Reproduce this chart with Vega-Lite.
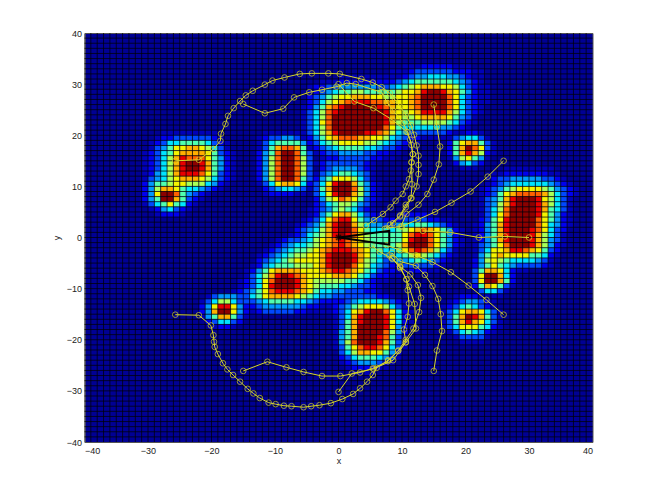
{"$schema":"https://vega.github.io/schema/vega-lite/v6.json","width":508,"height":409,"autosize":"none","padding":{"left":84.5,"top":33,"right":61.5,"bottom":62},"background":"white","view":{"fill":"#000094","stroke":"#555"},
"datasets":{
"cells":[
{"y":20,"x":[-12,-11,-10,-9,-8,-7],"v":[1,1,1,1,1,1]},
{"y":19,"x":[-13,-12,-11,-10,-9,-8,-7],"v":[1,2,3,3,4,4,3]},
{"y":18,"x":[-13,-12,-11,-10,-9,-8,-7,-6],"v":[1,3,5,6,6,6,6,4]},
{"y":17,"x":[-13,-12,-11,-10,-9,-8,-7,-6,-5,-4],"v":[1,3,6,9,10,10,9,6,3,1]},
{"y":16,"x":[-13,-12,-11,-10,-9,-8,-7,-6,-5],"v":[2,4,6,10,12,12,10,6,3]},
{"y":15,"x":[-13,-12,-11,-10,-9,-8,-7,-6,-5],"v":[2,4,7,10,12,12,10,7,3]},
{"y":14,"x":[-13,-12,-11,-10,-9,-8,-7,-6,-5,-4],"v":[2,4,7,10,12,12,10,7,3,1]},
{"y":13,"x":[-13,-12,-11,-10,-9,-8,-7,-6,-5],"v":[2,4,7,10,12,12,10,7,3]},
{"y":12,"x":[-13,-12,-11,-10,-9,-8,-7,-6,-5],"v":[2,4,7,10,12,12,10,7,3]},
{"y":11,"x":[-13,-12,-11,-10,-9,-8,-7,-6,-5],"v":[2,4,7,10,12,12,10,6,3]},
{"y":10,"x":[-13,-12,-11,-10,-9,-8,-7,-6,-5],"v":[1,3,5,8,9,9,8,5,2]},
{"y":9,"x":[-12,-11,-10,-9,-8,-7,-6,-5],"v":[2,3,4,5,5,4,3,1]},
{"y":8,"x":[-12,-11,-10,-9,-8,-7,-6],"v":[1,2,2,2,2,1,1]},
{"y":20,"x":[-28,-27,-26,-25,-24,-23,-22,-21,-20],"v":[1,1,1,1,1,1,1,1,1]},
{"y":19,"x":[-29,-28,-27,-26,-25,-24,-23,-22,-21,-20,-19],"v":[1,2,2,3,3,3,3,3,3,2,1]},
{"y":18,"x":[-30,-29,-28,-27,-26,-25,-24,-23,-22,-21,-20,-19,-18],"v":[1,2,3,5,5,6,6,6,6,5,3,2,1]},
{"y":17,"x":[-30,-29,-28,-27,-26,-25,-24,-23,-22,-21,-20,-19,-18],"v":[1,3,4,6,8,8,9,9,8,7,5,3,1]},
{"y":16,"x":[-31,-30,-29,-28,-27,-26,-25,-24,-23,-22,-21,-20,-19,-18,-17],"v":[1,2,3,5,6,8,9,9,9,9,8,6,3,2,1]},
{"y":15,"x":[-31,-30,-29,-28,-27,-26,-25,-24,-23,-22,-21,-20,-19,-18,-17],"v":[1,2,3,5,7,9,11,10,10,10,8,6,4,2,1]},
{"y":14,"x":[-31,-30,-29,-28,-27,-26,-25,-24,-23,-22,-21,-20,-19,-18,-17],"v":[1,2,3,5,7,9,11,12,12,11,9,6,4,2,1]},
{"y":13,"x":[-31,-30,-29,-28,-27,-26,-25,-24,-23,-22,-21,-20,-19,-18,-17],"v":[1,2,3,5,7,9,11,12,12,11,9,6,4,2,1]},
{"y":12,"x":[-31,-30,-29,-28,-27,-26,-25,-24,-23,-22,-21,-20,-19,-18,-17],"v":[1,2,4,5,7,9,11,11,11,10,8,6,3,2,1]},
{"y":11,"x":[-31,-30,-29,-28,-27,-26,-25,-24,-23,-22,-21,-20,-19,-18,-17],"v":[1,3,4,5,7,8,9,9,9,8,7,5,3,2,1]},
{"y":10,"x":[-31,-30,-29,-28,-27,-26,-25,-24,-23,-22,-21,-20,-19,-18],"v":[2,4,6,6,7,8,8,7,7,7,5,4,2,1]},
{"y":9,"x":[-31,-30,-29,-28,-27,-26,-25,-24,-23,-22,-21,-20,-19],"v":[2,4,7,9,9,8,6,5,5,4,3,2,1]},
{"y":8,"x":[-31,-30,-29,-28,-27,-26,-25,-24,-23,-22,-21],"v":[2,4,8,12,12,10,6,4,3,2,1]},
{"y":7,"x":[-31,-30,-29,-28,-27,-26,-25,-24,-23,-22],"v":[2,4,6,12,12,9,6,3,2,1]},
{"y":6,"x":[-31,-30,-29,-28,-27,-26,-25,-24,-23],"v":[1,3,5,6,8,6,5,2,1]},
{"y":5,"x":[-30,-29,-28,-27,-26,-25,-24],"v":[1,2,4,5,3,2,1]},
{"y":4,"x":[-29,-28,-27,-26,-25],"v":[1,2,2,2,1]},
{"y":33,"x":[10,11,12,13,14,15,16,17,18,19,20],"v":[1,1,1,2,2,2,2,2,1,1,1]},
{"y":32,"x":[8,9,10,11,12,13,14,15,16,17,18,19,20,21,22],"v":[1,1,1,2,3,3,3,3,3,3,2,2,2,1,1]},
{"y":31,"x":[0,1,2,3,4,5,6,7,8,9,10,11,12,13,14,15,16,17,18,19,20,21,22],"v":[1,1,1,1,1,1,1,1,1,1,2,3,4,4,5,5,5,4,4,3,2,1,1]},
{"y":30,"x":[-3,-2,-1,0,1,2,3,4,5,6,7,8,9,10,11,12,13,14,15,16,17,18,19,20,21,22],"v":[1,1,1,2,2,2,2,2,2,2,2,2,3,4,5,6,6,6,6,6,6,5,4,3,2,1]},
{"y":29,"x":[-5,-4,-3,-2,-1,0,1,2,3,4,5,6,7,8,9,10,11,12,13,14,15,16,17,18,19,20,21,22,23],"v":[1,2,2,3,3,4,4,4,4,4,4,3,3,4,5,6,7,8,9,9,9,8,8,7,5,3,2,1,1]},
{"y":28,"x":[-5,-4,-3,-2,-1,0,1,2,3,4,5,6,7,8,9,10,11,12,13,14,15,16,17,18,19,20,21,22,23],"v":[1,2,3,4,5,6,6,7,7,6,6,6,6,6,7,8,8,9,11,12,12,11,9,8,6,4,2,1,1]},
{"y":27,"x":[-5,-4,-3,-2,-1,0,1,2,3,4,5,6,7,8,9,10,11,12,13,14,15,16,17,18,19,20,21,22,23],"v":[2,3,4,6,7,8,8,9,9,9,8,8,7,7,8,8,9,10,12,12,12,12,10,8,5,3,2,1,1]},
{"y":26,"x":[-5,-4,-3,-2,-1,0,1,2,3,4,5,6,7,8,9,10,11,12,13,14,15,16,17,18,19,20,21,22,23],"v":[2,3,5,7,8,9,10,11,11,11,10,10,9,9,8,8,9,10,12,12,12,12,10,8,5,3,2,1,1]},
{"y":25,"x":[-6,-5,-4,-3,-2,-1,0,1,2,3,4,5,6,7,8,9,10,11,12,13,14,15,16,17,18,19,20,21,22],"v":[1,2,4,6,9,10,11,12,12,12,12,12,11,10,9,8,8,9,10,12,12,12,12,10,8,5,3,2,1]},
{"y":24,"x":[-6,-5,-4,-3,-2,-1,0,1,2,3,4,5,6,7,8,9,10,11,12,13,14,15,16,17,18,19,20,21,22],"v":[1,3,5,7,10,11,12,12,12,12,12,12,12,11,9,8,7,8,9,11,11,11,11,9,7,5,3,2,1]},
{"y":23,"x":[-6,-5,-4,-3,-2,-1,0,1,2,3,4,5,6,7,8,9,10,11,12,13,14,15,16,17,18,19,20,21],"v":[1,3,5,7,10,12,12,12,12,12,12,12,12,11,9,8,7,7,8,9,9,9,9,8,6,4,3,1]},
{"y":22,"x":[-6,-5,-4,-3,-2,-1,0,1,2,3,4,5,6,7,8,9,10,11,12,13,14,15,16,17,18,19,20,21],"v":[1,3,5,8,10,12,12,12,12,12,12,12,12,11,9,7,6,6,6,7,7,7,7,6,5,3,2,1]},
{"y":21,"x":[-6,-5,-4,-3,-2,-1,0,1,2,3,4,5,6,7,8,9,10,11,12,13,14,15,16,17,18,19,20],"v":[1,3,5,7,10,12,12,12,12,12,12,12,12,10,8,6,5,5,5,5,5,5,4,4,3,2,1]},
{"y":20,"x":[-6,-5,-4,-3,-2,-1,0,1,2,3,4,5,6,7,8,9,10,11,12,13,14,15,16,17],"v":[1,3,5,7,9,11,12,12,12,12,11,11,10,9,7,5,4,3,3,3,3,3,3,2]},
{"y":19,"x":[-6,-5,-4,-3,-2,-1,0,1,2,3,4,5,6,7,8,9,10,11,12,13,14,15,16],"v":[1,2,4,6,8,9,10,10,10,9,9,8,8,7,5,4,3,2,2,1,1,1,1]},
{"y":18,"x":[-5,-4,-3,-2,-1,0,1,2,3,4,5,6,7,8,9,10,11,12],"v":[2,3,5,6,7,8,8,8,8,7,7,6,5,4,3,2,1,1]},
{"y":17,"x":[-5,-4,-3,-2,-1,0,1,2,3,4,5,6,7,8,9,10,11],"v":[1,2,3,4,5,6,6,6,6,5,5,4,3,3,2,1,1]},
{"y":16,"x":[-4,-3,-2,-1,0,1,2,3,4,5,6,7,8,9],"v":[1,2,3,3,4,4,4,4,3,3,2,2,1,1]},
{"y":15,"x":[-3,-2,-1,0,1,2,3,4,5,6,7,8],"v":[1,2,2,3,3,3,3,3,2,2,1,1]},
{"y":14,"x":[-4,-3,-2,-1,0,1,2,3,4,5],"v":[1,2,3,3,3,3,3,3,2,1]},
{"y":13,"x":[-3,-2,-1,0,1,2,3,4,5],"v":[2,3,4,4,4,4,3,2,1]},
{"y":12,"x":[-4,-3,-2,-1,0,1,2,3,4,5],"v":[1,3,4,5,6,6,5,4,3,1]},
{"y":11,"x":[-4,-3,-2,-1,0,1,2,3,4,5],"v":[2,4,6,8,8,8,7,5,3,1]},
{"y":10,"x":[-4,-3,-2,-1,0,1,2,3,4,5,6],"v":[3,5,8,11,12,12,9,6,4,2,1]},
{"y":9,"x":[-4,-3,-2,-1,0,1,2,3,4,5,6],"v":[3,6,9,12,12,12,10,7,4,2,1]},
{"y":8,"x":[-4,-3,-2,-1,0,1,2,3,4,5,6],"v":[3,5,8,11,12,12,9,7,4,2,1]},
{"y":7,"x":[-4,-3,-2,-1,0,1,2,3,4,5,6],"v":[2,4,7,8,10,9,8,6,3,2,1]},
{"y":6,"x":[-4,-3,-2,-1,0,1,2,3,4,5],"v":[2,3,5,6,7,7,6,4,3,1]},
{"y":5,"x":[-5,-4,-3,-2,-1,0,1,2,3,4,5],"v":[1,2,3,4,6,7,6,5,3,2,1]},
{"y":4,"x":[-5,-4,-3,-2,-1,0,1,2,3,4,5,6],"v":[1,2,4,6,8,9,9,7,5,3,2,1]},
{"y":4,"x":[9,10,11,12,13,14],"v":[1,2,2,2,2,1]},
{"y":3,"x":[-6,-5,-4,-3,-2,-1,0,1,2,3,4,5,6,7,8,9,10,11,12,13,14,15,16,17],"v":[1,2,3,5,8,10,11,11,8,6,4,3,3,2,2,2,3,3,3,3,2,2,1,1]},
{"y":2,"x":[-7,-6,-5,-4,-3,-2,-1,0,1,2,3,4,5,6,7,8,9,10,11,12,13,14,15,16,17,18],"v":[1,2,3,4,6,9,11,12,12,9,7,5,4,4,3,3,4,5,5,6,6,5,4,3,2,1]},
{"y":1,"x":[-7,-6,-5,-4,-3,-2,-1,0,1,2,3,4,5,6,7,8,9,10,11,12,13,14,15,16,17,18,19],"v":[2,3,4,5,7,9,11,12,12,10,8,6,5,5,5,5,6,7,8,9,10,9,8,6,4,2,1]},
{"y":0,"x":[-8,-7,-6,-5,-4,-3,-2,-1,0,1,2,3,4,5,6,7,8,9,10,11,12,13,14,15,16,17,18,19],"v":[1,2,3,5,6,7,9,11,12,11,10,8,7,6,6,6,6,6,8,10,11,11,10,8,6,4,2,1]},
{"y":-1,"x":[-10,-9,-8,-7,-6,-5,-4,-3,-2,-1,0,1,2,3,4,5,6,7,8,9,10,11,12,13,14,15,16,17,18,19],"v":[1,2,3,3,4,5,7,8,9,10,11,10,9,8,7,6,6,6,6,6,8,11,12,12,10,8,6,4,2,1]},
{"y":-2,"x":[-11,-10,-9,-8,-7,-6,-5,-4,-3,-2,-1,0,1,2,3,4,5,6,7,8,9,10,11,12,13,14,15,16,17,18,19],"v":[1,2,3,4,5,5,6,7,8,9,10,11,10,9,8,7,6,6,6,6,7,9,12,12,12,10,8,6,4,2,1]},
{"y":-3,"x":[-12,-11,-10,-9,-8,-7,-6,-5,-4,-3,-2,-1,0,1,2,3,4,5,6,7,8,9,10,11,12,13,14,15,16,17,18],"v":[1,2,3,4,5,6,6,7,8,9,10,11,11,11,10,9,8,6,6,5,5,6,8,10,11,10,9,7,5,3,1]},
{"y":-4,"x":[-13,-12,-11,-10,-9,-8,-7,-6,-5,-4,-3,-2,-1,0,1,2,3,4,5,6,7,8,9,10,11,12,13,14,15,16,17,18],"v":[1,2,3,4,5,6,7,7,8,8,9,11,12,12,12,11,9,8,6,5,4,4,5,6,7,8,7,6,5,3,2,1]},
{"y":-5,"x":[-13,-12,-11,-10,-9,-8,-7,-6,-5,-4,-3,-2,-1,0,1,2,3,4,5,6,7,8,9,10,11,12,13,14,15,16,17],"v":[2,3,4,5,6,7,8,8,8,8,9,11,12,12,12,11,9,7,6,5,3,3,4,4,5,6,5,4,3,2,1]},
{"y":-6,"x":[-14,-13,-12,-11,-10,-9,-8,-7,-6,-5,-4,-3,-2,-1,0,1,2,3,4,5,6,7,8,9,10,11,12,13,14,15,16],"v":[1,2,4,5,6,6,6,7,7,7,8,9,11,12,12,12,10,8,7,5,4,3,2,2,3,3,3,3,3,2,1]},
{"y":-7,"x":[-15,-14,-13,-12,-11,-10,-9,-8,-7,-6,-5,-4,-3,-2,-1,0,1,2,3,4,5,6,7,8,9,10,11,12,13,14,15],"v":[1,2,4,6,8,9,9,9,9,8,8,8,9,10,11,11,10,9,8,6,5,3,2,2,1,1,2,2,2,1,1]},
{"y":-8,"x":[-15,-14,-13,-12,-11,-10,-9,-8,-7,-6,-5,-4,-3,-2,-1,0,1,2,3,4,5,6,7,8,9],"v":[1,3,5,7,9,11,12,11,10,9,8,8,8,8,9,9,9,8,6,5,3,2,2,1,1]},
{"y":-9,"x":[-16,-15,-14,-13,-12,-11,-10,-9,-8,-7,-6,-5,-4,-3,-2,-1,0,1,2,3,4,5,6,7],"v":[1,2,3,5,8,10,12,12,12,11,9,8,7,7,7,7,7,6,6,5,3,2,1,1]},
{"y":-10,"x":[-16,-15,-14,-13,-12,-11,-10,-9,-8,-7,-6,-5,-4,-3,-2,-1,0,1,2,3,4,5,6],"v":[1,2,3,5,8,11,12,12,12,11,9,8,7,6,6,6,5,5,4,3,3,2,1]},
{"y":-11,"x":[-17,-16,-15,-14,-13,-12,-11,-10,-9,-8,-7,-6,-5,-4,-3,-2,-1,0,1,2,3,4,5,6],"v":[1,2,3,4,6,8,10,11,11,11,10,9,8,6,5,5,4,4,3,3,3,2,2,1]},
{"y":-12,"x":[-21,-20,-19,-18,-17,-16,-15,-14,-13,-12,-11,-10,-9,-8,-7,-6,-5,-4,-3,-2,-1,0,1,2,3,4,5,6,7,8],"v":[1,3,4,4,4,3,3,5,6,8,9,9,9,9,8,7,6,5,4,4,3,3,3,3,3,3,3,2,2,1]},
{"y":-13,"x":[-22,-21,-20,-19,-18,-17,-16,-15,-14,-13,-12,-11,-10,-9,-8,-7,-6,-5,-4,-3,-2,-1,0,1,2,3,4,5,6,7,8,9,10],"v":[1,3,5,7,7,5,3,3,3,4,5,6,6,6,6,5,5,4,3,2,2,2,2,3,4,5,5,5,5,4,3,2,1]},
{"y":-14,"x":[-22,-21,-20,-19,-18,-17,-16,-15,-14,-13,-12,-11,-10,-9,-8,-7,-6,-5,-4,-3,-2,-1,0,1,2,3,4,5,6,7,8,9,10],"v":[2,4,8,11,11,8,4,2,2,3,4,4,4,4,4,4,3,2,2,1,1,2,3,4,6,7,8,8,8,7,5,3,1]},
{"y":-15,"x":[-22,-21,-20,-19,-18,-17,-16,-15,-14,-13,-12,-11,-10,-9,-8,-7,-6,-5,-4,-3,-2,-1,0,1,2,3,4,5,6,7,8,9,10,11],"v":[2,4,9,12,12,8,4,2,1,2,3,3,3,3,3,2,2,1,1,1,1,2,3,5,8,9,11,12,12,10,8,5,2,1]},
{"y":-16,"x":[-22,-21,-20,-19,-18,-17,-16,-15],"v":[1,4,6,9,9,6,3,1]},
{"y":-17,"x":[-21,-20,-19,-18,-17,-16],"v":[2,3,5,5,3,2]},
{"y":-18,"x":[-20,-19,-18,-17],"v":[1,2,2,1]},
{"y":-16,"x":[-1,0,1,2,3,4,5,6,7,8,9,10,11],"v":[1,3,5,9,11,12,12,12,11,8,5,2,1]},
{"y":-17,"x":[-1,0,1,2,3,4,5,6,7,8,9,10,11],"v":[1,3,6,9,11,12,12,12,11,8,5,2,1]},
{"y":-18,"x":[-1,0,1,2,3,4,5,6,7,8,9,10],"v":[1,3,6,9,12,12,12,12,11,8,4,2]},
{"y":-19,"x":[-1,0,1,2,3,4,5,6,7,8,9,10],"v":[1,4,6,9,12,12,12,12,10,7,4,2]},
{"y":-20,"x":[-1,0,1,2,3,4,5,6,7,8,9,10],"v":[1,4,6,9,12,12,12,11,10,6,3,1]},
{"y":-21,"x":[-1,0,1,2,3,4,5,6,7,8,9,10],"v":[1,4,7,10,12,12,12,11,9,6,3,1]},
{"y":-22,"x":[-1,0,1,2,3,4,5,6,7,8,9,10],"v":[1,3,6,8,10,11,11,10,8,5,3,1]},
{"y":-23,"x":[0,1,2,3,4,5,6,7,8,9],"v":[3,5,7,9,9,8,8,6,4,2]},
{"y":-24,"x":[0,1,2,3,4,5,6,7,8,9],"v":[2,3,5,6,6,6,5,4,3,1]},
{"y":-25,"x":[0,1,2,3,4,5,6,7,8],"v":[1,2,3,4,4,4,3,2,1]},
{"y":-26,"x":[1,2,3,4,5,6,7],"v":[1,2,2,2,2,1,1]},
{"y":-27,"x":[2,3,4,5],"v":[1,1,1,1]},
{"y":20,"x":[18,19,20,21,22],"v":[1,1,2,2,1]},
{"y":19,"x":[17,18,19,20,21,22,23],"v":[1,3,4,5,5,3,1]},
{"y":18,"x":[17,18,19,20,21,22,23,24],"v":[2,6,8,9,9,6,3,1]},
{"y":17,"x":[17,18,19,20,21,22,23,24],"v":[2,6,9,12,10,8,3,1]},
{"y":16,"x":[17,18,19,20,21,22,23,24],"v":[2,6,9,11,9,7,2,1]},
{"y":15,"x":[17,18,19,20,21,22,23],"v":[1,4,7,8,6,4,1]},
{"y":14,"x":[18,19,20,21,22],"v":[2,4,5,3,2]},
{"y":13,"x":[19,20,21],"v":[1,1,1]},
{"y":13,"x":[26,27,28,29,30,31,32,33],"v":[1,1,1,1,1,1,1,1]},
{"y":12,"x":[24,25,26,27,28,29,30,31,32,33,34],"v":[1,1,2,2,2,2,2,2,2,1,1]},
{"y":11,"x":[23,24,25,26,27,28,29,30,31,32,33,34,35],"v":[1,2,3,3,4,4,4,4,4,3,3,2,1]},
{"y":10,"x":[23,24,25,26,27,28,29,30,31,32,33,34,35,36],"v":[1,2,3,4,5,5,5,5,5,5,4,3,2,1]},
{"y":9,"x":[22,23,24,25,26,27,28,29,30,31,32,33,34,35,36,37],"v":[1,2,3,4,6,7,8,8,8,8,7,6,4,3,2,1]},
{"y":8,"x":[22,23,24,25,26,27,28,29,30,31,32,33,34,35,36,37],"v":[1,2,3,6,8,9,10,10,10,10,9,7,5,3,2,1]},
{"y":7,"x":[22,23,24,25,26,27,28,29,30,31,32,33,34,35,36],"v":[1,3,4,6,9,11,12,12,12,11,8,7,5,3,1]},
{"y":6,"x":[22,23,24,25,26,27,28,29,30,31,32,33,34,35,36],"v":[1,3,4,7,9,11,12,12,12,11,9,7,5,3,1]},
{"y":5,"x":[22,23,24,25,26,27,28,29,30,31,32,33,34,35,36],"v":[1,3,5,7,10,12,12,12,12,11,9,6,5,3,1]},
{"y":4,"x":[22,23,24,25,26,27,28,29,30,31,32,33,34,35,36],"v":[1,3,5,8,10,12,12,12,12,11,8,6,4,2,1]},
{"y":3,"x":[22,23,24,25,26,27,28,29,30,31,32,33,34,35,36],"v":[2,3,6,8,11,12,12,12,12,10,8,6,4,2,1]},
{"y":2,"x":[21,22,23,24,25,26,27,28,29,30,31,32,33,34,35,36],"v":[1,2,4,6,9,11,12,12,12,12,10,8,5,4,2,1]},
{"y":1,"x":[21,22,23,24,25,26,27,28,29,30,31,32,33,34,35],"v":[1,2,4,6,9,11,12,12,12,11,10,8,5,3,2]},
{"y":0,"x":[21,22,23,24,25,26,27,28,29,30,31,32,33,34,35],"v":[1,2,4,6,9,11,12,12,12,11,9,7,5,3,1]},
{"y":-1,"x":[21,22,23,24,25,26,27,28,29,30,31,32,33,34,35],"v":[1,2,4,6,9,11,12,12,12,11,9,7,4,3,1]},
{"y":-2,"x":[21,22,23,24,25,26,27,28,29,30,31,32,33,34,35],"v":[1,3,4,6,8,10,12,12,12,11,9,7,4,2,1]},
{"y":-3,"x":[21,22,23,24,25,26,27,28,29,30,31,32,33,34],"v":[1,3,5,8,8,9,11,11,10,9,8,6,3,2]},
{"y":-4,"x":[21,22,23,24,25,26,27,28,29,30,31,32,33,34],"v":[1,4,6,8,9,8,8,8,8,6,6,5,2,1]},
{"y":-5,"x":[21,22,23,24,25,26,27,28,29,30,31,32,33],"v":[2,4,7,8,7,6,5,5,5,5,4,3,1]},
{"y":-6,"x":[21,22,23,24,25,26,27,28,29,30,31,32,33],"v":[2,4,6,8,6,5,4,3,3,3,3,2,1]},
{"y":-7,"x":[21,22,23,24,25,26,27,28,29],"v":[3,6,9,9,8,5,2,1,1]},
{"y":-8,"x":[21,22,23,24,25,26,27],"v":[3,8,12,12,9,5,2]},
{"y":-9,"x":[21,22,23,24,25,26,27],"v":[3,8,12,12,9,6,2]},
{"y":-10,"x":[21,22,23,24,25,26,27],"v":[2,6,9,8,6,3,1]},
{"y":-11,"x":[22,23,24,25,26],"v":[3,5,5,3,1]},
{"y":-12,"x":[18,19,20,21,22,23,24,25],"v":[1,2,2,2,1,1,1,1]},
{"y":-13,"x":[17,18,19,20,21,22,23,24],"v":[1,2,3,4,4,3,2,1]},
{"y":-14,"x":[16,17,18,19,20,21,22,23,24],"v":[1,2,3,5,6,5,3,2,1]},
{"y":-15,"x":[16,17,18,19,20,21,22,23,24,25],"v":[1,3,5,8,9,9,8,5,3,1]},
{"y":-16,"x":[16,17,18,19,20,21,22,23,24,25],"v":[1,3,6,9,12,11,9,6,3,1]},
{"y":-17,"x":[16,17,18,19,20,21,22,23,24,25],"v":[1,3,6,9,11,9,8,5,3,1]},
{"y":-18,"x":[16,17,18,19,20,21,22,23,24,25],"v":[1,3,5,8,8,8,6,5,2,1]},
{"y":-19,"x":[17,18,19,20,21,22,23,24],"v":[1,3,5,6,5,4,2,1]},
{"y":-20,"x":[18,19,20,21,22,23],"v":[1,3,3,3,3,1]},
{"y":-21,"x":[19,20,21,22],"v":[1,1,1,1]}
],
"grid":[{"g":[-39,-38,-37,-36,-35,-34,-33,-32,-31,-30,-29,-28,-27,-26,-25,-24,-23,-22,-21,-20,-19,-18,-17,-16,-15,-14,-13,-12,-11,-10,-9,-8,-7,-6,-5,-4,-3,-2,-1,0,1,2,3,4,5,6,7,8,9,10,11,12,13,14,15,16,17,18,19,20,21,22,23,24,25,26,27,28,29,30,31,32,33,34,35,36,37,38,39]}],
"tracks":[
{"t":1,"x":[-25.7,-22,-19.7,-18.6,-18.5,-17.8,-17.4,-16.5,-15.5,-14.6,-13.5,-11.6,-10.4,-8.5,-6.1,-4.2,-1.6,0.2,3.6,5.4,6.8,8.1,8.9,9.7,10.6,11.4,11.9,12.3,12.6,12.6,12.6,12.3,11.5,10.6,9.7,8.6,7.3],"y":[15,15.2,17.3,18.9,20.3,22.2,23.8,25.3,26.7,27.8,28.7,29.9,30.7,31.3,32,32.1,32.1,32,31,30.3,29.4,28.2,26.9,25.6,24,22,20.1,18,16,14.2,12.4,10,7.7,5.9,4.1,2.8,1.7]},
{"t":2,"x":[-15,-11.6,-8.7,-7,-4.6,-2.6,-0.3,1.3,2.7,6.8,7.7,8.6,10.2,10.9,11.5,11.7,11.5,11.4,11.1,10.6,10.1,9,8.2,7,5.6,4.3],"y":[26.1,24.3,25.2,27.4,28.4,28.9,29.5,30.2,30,28.4,26.3,24.8,22.4,20.6,18.1,16.3,14.7,13.1,11.4,10,8.5,7.2,5.9,4.6,3.4,2.3]},
{"t":3,"x":[0,2.5,5.5,8.5,10.7,11.3,11.7,11.5,11.6,11.4,10.6,9.7,8.1],"y":[30,26.6,25.3,23,20.7,19.1,16.3,14.7,10.4,7.7,6.4,4.3,2.5]},
{"t":4,"x":[15,15.5,16,15.8,15,14,12.6,10.7,9.8],"y":[26,21.7,17.8,14.3,11.3,8.5,6.4,4.6,2.1]},
{"t":5,"x":[26,23.5,20.8,17.8,15.2,12.5,10,7.6],"y":[15,11.9,9,6.8,5,3.5,2.2,1.8]},
{"t":6,"x":[30,26.2,22.1,17.6,13.3],"y":[0,0.2,0,1,1.3]},
{"t":7,"x":[26,23.3,20.5,17.7,14.8,12.2,9.7,7.6],"y":[-15.1,-12.2,-9.4,-6.8,-4.8,-3.5,-2.5,-1.5]},
{"t":8,"x":[15,15.5,16.3,16.1,15.7,14.8,13.6,12.2,9.7,8.4],"y":[-26.1,-22.1,-18.3,-15,-12,-9.5,-7.3,-5.5,-4.7,-3]},
{"t":9,"x":[-15,-11.2,-8.2,-5.5,-2.6,0.3,3.4,5.4,7.8,9.4,10.6,11.8,12.7,13,12.5,11.3,9.7,8.4,6.5,5.2],"y":[-26.1,-24.3,-25.4,-26.3,-27.1,-27.1,-26.4,-25.6,-24.2,-22.1,-20,-17.8,-14.6,-11.8,-9.3,-7.2,-5.7,-4.1,-2.8,-1.5]},
{"t":10,"x":[-25.7,-22,-20.1,-19.7,-19.6,-19.5,-19,-18.2,-17.5,-16.6,-15.5,-14.3,-13.4,-12.4,-11,-9.9,-8.6,-7.4,-5.5,-4.3,-3,-1.2,0.6,2.3,3.4,4.5,5.4,6,7.8,9.4,10.6,10.3,10.9,11.1,10.9,10.7,9.7,8.5],"y":[-15.1,-15.2,-17.2,-19.1,-20.4,-21.4,-22.8,-24.6,-25.8,-26.9,-28.2,-29.6,-30.5,-31.4,-32.3,-32.6,-32.9,-33,-33.2,-33,-32.8,-32.4,-31.6,-30.6,-29.5,-28.2,-26.9,-25.5,-24,-22.2,-20.5,-18,-15.5,-12.9,-10.3,-8.2,-6,-4.1]},
{"t":11,"x":[0,2.1,5.5,8.6,10.6,12.2,12,11.1,10.7,9.7,8],"y":[-30.2,-26.6,-25.7,-24,-20.5,-17.8,-13,-9.6,-8.2,-5.7,-3.5]}
]
},
"layer":[
{"data":{"name":"cells"},"transform":[{"flatten":["x","v"]},{"bin":{"step":1,"extent":[-40,40]},"field":"x","as":["x0","x1"]},{"bin":{"step":1,"extent":[-40,40]},"field":"y","as":["y0","y1"]}],
"mark":{"type":"rect","stroke":null},
"encoding":{
"x":{"field":"x0","type":"quantitative","scale":{"domain":[-40,40],"nice":false},"axis":{"values":[-40,-30,-20,-10,0,10,20,30,40],"format":"d","title":"x","grid":false,"tickSize":0,"labelPadding":4,"labelFont":"Liberation Sans","labelFontSize":9,"labelColor":"#222","titleFont":"Liberation Sans","titleFontSize":9,"titleFontWeight":"normal","titleColor":"#222","titlePadding":1,"domainColor":"#555"}},
"x2":{"field":"x1"},
"y":{"field":"y0","type":"quantitative","scale":{"domain":[-40,40],"nice":false},"axis":{"values":[-40,-30,-20,-10,0,10,20,30,40],"format":"d","title":"y","grid":false,"tickSize":0,"labelPadding":3,"labelFont":"Liberation Sans","labelFontSize":9,"labelColor":"#222","titleFont":"Liberation Sans","titleFontSize":9,"titleFontWeight":"normal","titleColor":"#222","titlePadding":5,"domainColor":"#555"}},
"y2":{"field":"y1"},
"color":{"field":"v","type":"quantitative","legend":null,"scale":{"domain":[0,1,2,3,4,5,6,7,8,9,10,11,12],"range":["#000094","#0000b8","#0000f0","#0048ff","#0098ff","#00e4ff","#50ffb0","#a8ff58","#f4f400","#ffb000","#ff6000","#e80000","#8c0000"]}}}},
{"data":{"name":"grid"},"transform":[{"flatten":["g"]}],"mark":{"type":"rule","color":"black","strokeWidth":1,"opacity":0.7},"encoding":{"x":{"field":"g","type":"quantitative"}}},
{"data":{"name":"grid"},"transform":[{"flatten":["g"]}],"mark":{"type":"rule","color":"black","strokeWidth":1,"opacity":0.7},"encoding":{"y":{"field":"g","type":"quantitative"}}},
{"data":{"name":"tracks"},"transform":[{"flatten":["x","y"]},{"window":[{"op":"row_number","as":"i"}],"groupby":["t"]}],"mark":{"type":"line","color":"#d8d82a","strokeWidth":1},"encoding":{"x":{"field":"x","type":"quantitative"},"y":{"field":"y","type":"quantitative"},"detail":{"field":"t"},"order":{"field":"i"}}},
{"data":{"name":"tracks"},"transform":[{"flatten":["x","y"]}],"mark":{"type":"point","color":"#d8d82a","filled":false,"size":32,"strokeWidth":1},"encoding":{"x":{"field":"x","type":"quantitative"},"y":{"field":"y","type":"quantitative"}}},
{"data":{"values":[{"n":0,"x":0,"y":0},{"n":1,"x":8,"y":1.3},{"n":2,"x":8,"y":-1.4},{"n":3,"x":0,"y":0}]},"mark":{"type":"line","color":"black","strokeWidth":2},"encoding":{"x":{"field":"x","type":"quantitative"},"y":{"field":"y","type":"quantitative"},"order":{"field":"n"}}},
{"data":{"values":[{"x":0,"y":0}]},"mark":{"type":"point","shape":"M-1,0L1,0M0,-1L0,1M-0.7,-0.7L0.7,0.7M-0.7,0.7L0.7,-0.7","color":"black","filled":false,"strokeWidth":1.5,"size":50},"encoding":{"x":{"field":"x","type":"quantitative"},"y":{"field":"y","type":"quantitative"}}}
]}
